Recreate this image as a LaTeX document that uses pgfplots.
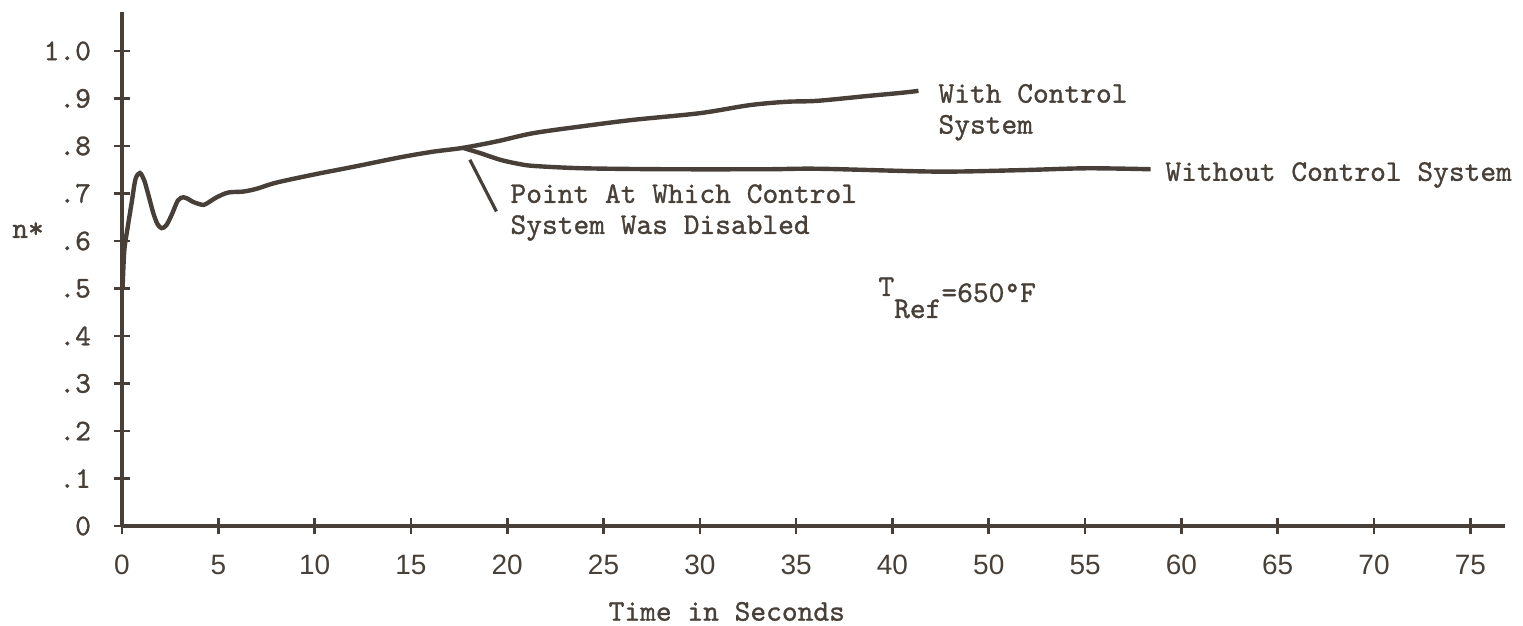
\documentclass[border=0pt]{standalone}
\usepackage{fontspec}
\usepackage{pgfplots}
\pgfplotsset{compat=1.18}
\newfontfamily\tw{lmmono10-regular.otf}[FakeBold=1.0]
\newfontfamily\tsans{Liberation Sans}
\definecolor{ink}{RGB}{72,64,56}

\begin{document}
\begin{tikzpicture}
\useasboundingbox (-61pt,-50pt) rectangle (700.5pt,263pt);
\begin{axis}[
    scale only axis,
    width=691.5pt, height=257pt,
    xmin=0, xmax=71.8,
    ymin=0, ymax=1.082,
    axis lines=left,
    axis line style={-, line width=1.8pt, ink},
    tick style={line width=1.3pt, ink},
    tick align=center,
    major tick length=8pt,
    xtick={0,5,10,15,20,25,30,35,40,45,50,55,60,65,70},
    xticklabels={0,5,10,15,20,25,30,35,40,50,55,60,65,70,75},
    ytick={0,0.1,0.2,0.3,0.4,0.5,0.6,0.7,0.8,0.9,1.0},
    yticklabels={0,.1,.2,.3,.4,.5,.6,.7,.8,.9,1.0},
    xticklabel style={font=\tsans\fontsize{14}{14}\selectfont, text=ink, yshift=-7pt},
    yticklabel style={font=\tw\fontsize{15}{15}\selectfont, text=ink, xshift=-8pt},
    clip=false,
]
% with control system (runs on after the split)
\addplot[ink, line width=2.2pt, smooth] coordinates {
 (0.03,0.50)(0.12,0.58)(0.3,0.63)(0.5,0.68)(0.7,0.73)(0.93,0.743)
 (1.15,0.728)(1.35,0.70)(1.63,0.658)(1.85,0.635)(2.06,0.627)(2.3,0.633)
 (2.58,0.655)(2.9,0.685)(3.18,0.692)(3.45,0.688)(3.7,0.682)(4.22,0.676)
 (4.6,0.684)(4.92,0.692)(5.52,0.702)(6.3,0.704)(7.0,0.71)(8.03,0.723)
 (10.1,0.741)(12.0,0.756)(14.43,0.776)(16.16,0.788)(17.7,0.796)(19.5,0.81)
 (21.36,0.827)(24,0.842)(26.55,0.855)(30.0,0.869)(32.6,0.886)(34.5,0.893)
 (36.1,0.895)(38.66,0.905)(40.5,0.912)(41.35,0.916)
};
% without control system
\addplot[ink, line width=2.2pt, smooth] coordinates {
 (17.7,0.796)(18.59,0.785)(19.63,0.771)(20.5,0.763)(21.36,0.758)(23.95,0.753)
 (28.28,0.751)(33.47,0.751)(36.2,0.752)(42.3,0.746)(46.6,0.749)(50.1,0.753)
 (53.4,0.751)
};

\draw[ink, line width=1.6pt] (axis cs:18.06,0.771) -- (axis cs:19.44,0.662);

\begin{scope}[every node/.style={font=\tw\fontsize{15}{15.5}\selectfont, text=ink, inner sep=0pt}]
\node[anchor=west, align=left] at (axis cs:42.37,0.871) {With Control\\System};
\node[anchor=west] at (axis cs:54.15,0.739) {Without Control System};
\node[anchor=west, align=left] at (axis cs:20.15,0.660) {Point At Which Control\\System Was Disabled};
\node[anchor=base west] at (axis cs:39.25,0.4716) {\raisebox{3pt}{T}\raisebox{-8pt}{Ref}=650°F};
\node at (axis cs:31.4,-0.18) {Time in Seconds};
\node at (axis cs:-4.88,0.623) {n*};
\end{scope}
\end{axis}
\end{tikzpicture}
\end{document}
